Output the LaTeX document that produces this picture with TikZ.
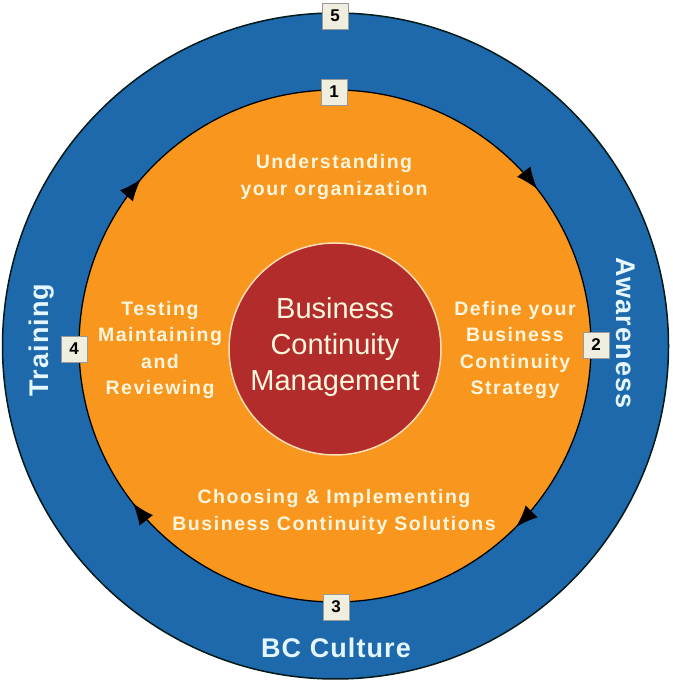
\documentclass[tikz,border=0pt]{standalone}
\usepackage{fontspec}
\setmainfont{Liberation Sans}
\newfontfamily\labfont[LetterSpace=8]{Liberation Sans}
\newfontfamily\ringfont[LetterSpace=4]{Liberation Sans}
\newfontfamily\ctrfont{Liberation Sans}
\usetikzlibrary{arrows.meta,decorations.markings}
\definecolor{ringblue}{RGB}{30,105,172}
\definecolor{ringorange}{RGB}{248,150,30}
\definecolor{corered}{RGB}{178,44,44}
\definecolor{creamtxt}{RGB}{255,246,222}
\definecolor{bluetxt}{RGB}{228,246,255}
\definecolor{boxfill}{RGB}{240,238,222}
\tikzset{
  steplabel/.style={text=creamtxt, align=center, font=\labfont\bfseries\fontsize{19.5}{26.5}\selectfont},
  ringlabel/.style={text=bluetxt, font=\ringfont\bfseries\fontsize{27}{30}\selectfont},
  numbox/.style={draw=black!40, line width=0.4pt, fill=boxfill, minimum size=26pt, inner sep=0pt, font=\bfseries\fontsize{17}{17}\selectfont},
  cyclearrow/.style={line width=1.3pt, black,
    decoration={markings,
      mark=at position 0.145 with {\arrow{Latex[length=22pt,width=17pt]}},
      mark=at position 0.375 with {\arrow{Latex[length=22pt,width=17pt]}},
      mark=at position 0.645 with {\arrow{Latex[length=22pt,width=17pt]}},
      mark=at position 0.863 with {\arrow{Latex[length=22pt,width=17pt]}}},
    postaction=decorate}
}
\begin{document}
\begin{tikzpicture}[x=1pt,y=1pt]
\useasboundingbox (0,0) rectangle (672,687);
\fill[white] (0,0) rectangle (672,687);
% outer blue ring
\coordinate (c) at (335.5,341);
\fill[ringblue, draw=black!80!teal, line width=1.5pt] (c) circle (333);
% orange disc
\fill[ringorange] (335,341) circle (256);
\draw[cyclearrow] (335,597) arc[start angle=90, end angle=-270, radius=256];
% core
\node[circle, fill=corered, draw=creamtxt!80!orange, line width=1.5pt, minimum size=212pt, inner sep=0pt] (core) at (335,338) {};
\node[text=creamtxt, align=center, font=\ctrfont\fontsize{29}{36}\selectfont] (coretxt) at (335,340) {Business\\Continuity\\Management};
% step labels
\node[steplabel] (s1) at (334,510) {Understanding\\your organization};
\node[steplabel] (s2) at (515,337) {Define your\\Business\\Continuity\\Strategy};
\node[steplabel] (s3) at (334,175) {Choosing \& Implementing\\Business Continuity Solutions};
\node[steplabel] (s4) at (160,337) {Testing\\Maintaining\\and\\Reviewing};
% ring labels
\node[ringlabel, rotate=90] (training) at (42,347) {Training};
\node[ringlabel, rotate=-90] (awareness) at (626,354) {Awareness};
\node[ringlabel] (culture) at (336,39) {BC Culture};
% number boxes
\node[numbox] (n5) at (335,671) {5};
\node[numbox] (n1) at (334,595) {1};
\node[numbox] (n2) at (596,342) {2};
\node[numbox] (n3) at (336,80) {3};
\node[numbox] (n4) at (74,338) {4};
\end{tikzpicture}
\end{document}
